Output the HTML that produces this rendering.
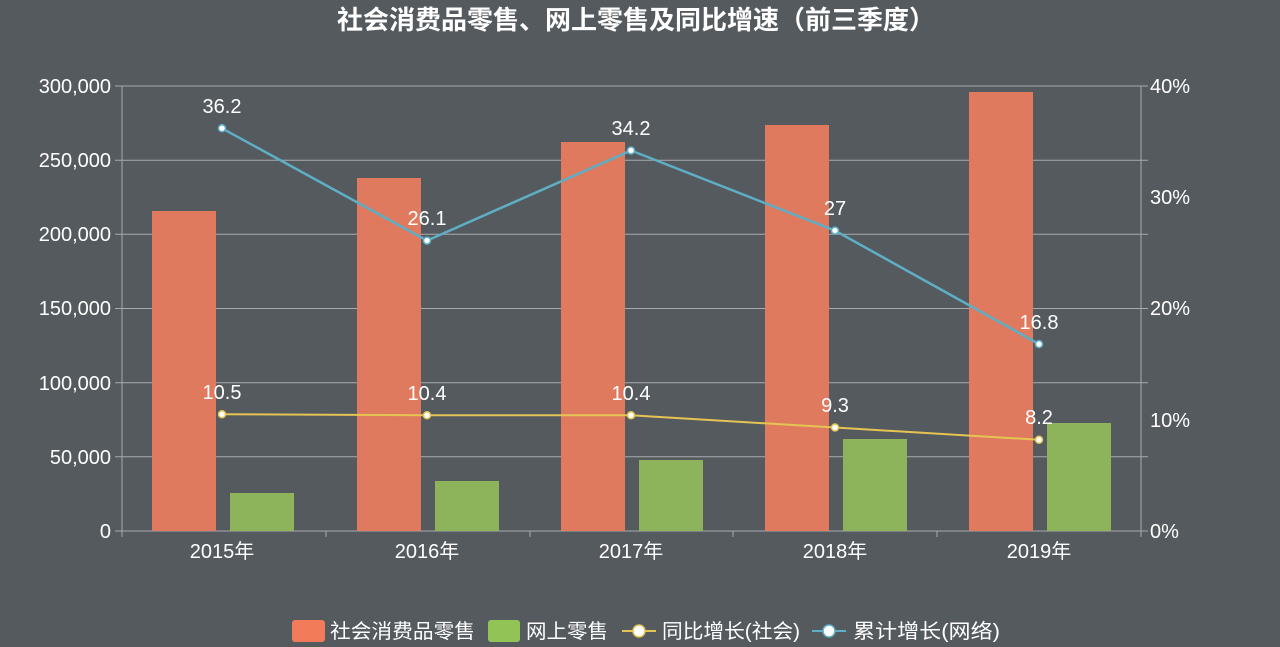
<!DOCTYPE html>
<html><head><meta charset="utf-8"><style>
html,body{margin:0;padding:0;background:#555a5f;}
svg{display:block;font-family:"Liberation Sans","Noto Sans CJK SC",sans-serif;}
</style></head><body>
<svg width="1280" height="647" viewBox="0 0 1280 647">
<rect width="1280" height="647" fill="#555a5f"/>
<text x="636" y="29" text-anchor="middle" font-size="26" font-weight="bold" fill="#fff">社会消费品零售、网上零售及同比增速（前三季度）</text>
<g stroke="#a8abad" stroke-width="1">
<line x1="115" y1="86" x2="1148" y2="86"/>
<line x1="115" y1="160.2" x2="1148" y2="160.2"/>
<line x1="115" y1="234.3" x2="1148" y2="234.3"/>
<line x1="115" y1="308.5" x2="1148" y2="308.5"/>
<line x1="115" y1="382.7" x2="1148" y2="382.7"/>
<line x1="115" y1="456.8" x2="1148" y2="456.8"/>
<line x1="115" y1="531" x2="1148" y2="531"/>
<line x1="122" y1="86" x2="122" y2="531"/>
<line x1="1141" y1="86" x2="1141" y2="531"/>
<line x1="122" y1="531" x2="122" y2="537"/><line x1="326" y1="531" x2="326" y2="537"/><line x1="530" y1="531" x2="530" y2="537"/><line x1="733" y1="531" x2="733" y2="537"/><line x1="937" y1="531" x2="937" y2="537"/><line x1="1141" y1="531" x2="1141" y2="537"/>
</g>
<g font-size="20" fill="#fff" text-anchor="end">
<text x="111" y="93">300,000</text><text x="111" y="167">250,000</text><text x="111" y="241">200,000</text><text x="111" y="315">150,000</text><text x="111" y="390">100,000</text><text x="111" y="464">50,000</text><text x="111" y="538">0</text>
</g>
<g font-size="20" fill="#fff">
<text x="1150" y="93">40%</text><text x="1150" y="204">30%</text><text x="1150" y="315">20%</text><text x="1150" y="427">10%</text><text x="1150" y="538">0%</text>
</g>
<g font-size="20" fill="#fff" text-anchor="middle">
<text x="222" y="558">2015年</text><text x="427" y="558">2016年</text><text x="631" y="558">2017年</text><text x="835" y="558">2018年</text><text x="1039" y="558">2019年</text>
</g>
<g fill="#df7a5f">
<rect x="152" y="211" width="64" height="320"/><rect x="357" y="178" width="64" height="353"/><rect x="561" y="142" width="64" height="389"/><rect x="765" y="125" width="64" height="406"/><rect x="969" y="92" width="64" height="439"/>
</g>
<g fill="#8db35b">
<rect x="230" y="493" width="64" height="38"/><rect x="435" y="481" width="64" height="50"/><rect x="639" y="460" width="64" height="71"/><rect x="843" y="439" width="64" height="92"/><rect x="1047" y="423" width="64" height="108"/>
</g>
<polyline points="222,414.2 427,415.3 631,415.3 835,427.5 1039,439.8" fill="none" stroke="#e5c453" stroke-width="2"/>
<polyline points="222,128.3 427,240.6 631,150.5 835,230.6 1039,344.1" fill="none" stroke="#5eaec6" stroke-width="2.5"/>
<g fill="#fff" stroke="#e5c453" stroke-width="1.5">
<circle cx="222" cy="414.2" r="3.5"/><circle cx="427" cy="415.3" r="3.5"/><circle cx="631" cy="415.3" r="3.5"/><circle cx="835" cy="427.5" r="3.5"/><circle cx="1039" cy="439.8" r="3.5"/>
</g>
<g fill="#fff" stroke="#5eaec6" stroke-width="1.5">
<circle cx="222" cy="128.3" r="3.5"/><circle cx="427" cy="240.6" r="3.5"/><circle cx="631" cy="150.5" r="3.5"/><circle cx="835" cy="230.6" r="3.5"/><circle cx="1039" cy="344.1" r="3.5"/>
</g>
<g font-size="20" fill="#fff" text-anchor="middle">
<text x="222" y="113">36.2</text><text x="427" y="225">26.1</text><text x="631" y="135">34.2</text><text x="835" y="215">27</text><text x="1039" y="329">16.8</text>
<text x="222" y="399">10.5</text><text x="427" y="400">10.4</text><text x="631" y="400">10.4</text><text x="835" y="412">9.3</text><text x="1039" y="424">8.2</text>
</g>
<g font-size="20" fill="#fff">
<rect x="292" y="620" width="33" height="22" rx="3" fill="#f27c5a"/><text x="330" y="638" textLength="145" lengthAdjust="spacingAndGlyphs">社会消费品零售</text>
<rect x="488" y="620" width="32" height="22" rx="3" fill="#91c356"/><text x="526" y="638" textLength="82" lengthAdjust="spacingAndGlyphs">网上零售</text>
<line x1="622" y1="631" x2="656" y2="631" stroke="#e5c453" stroke-width="2"/><circle cx="639" cy="631" r="6" fill="#fff" stroke="#e5c453" stroke-width="1.5"/><text x="662" y="638" textLength="138" lengthAdjust="spacingAndGlyphs">同比增长(社会)</text>
<line x1="812" y1="631" x2="846" y2="631" stroke="#5eaec6" stroke-width="2"/><circle cx="829" cy="631" r="6" fill="#fff" stroke="#5eaec6" stroke-width="1.5"/><text x="853" y="638" textLength="147" lengthAdjust="spacingAndGlyphs">累计增长(网络)</text>
</g>
</svg>
</body></html>
